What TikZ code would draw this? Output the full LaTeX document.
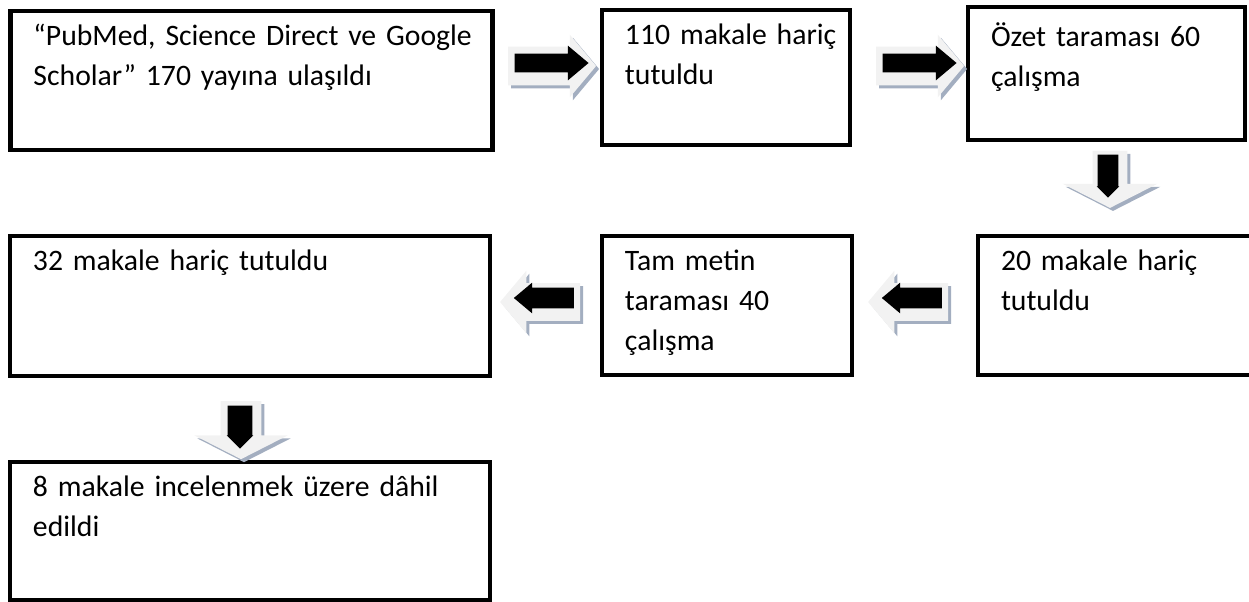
\documentclass[tikz,border=0pt]{standalone}
\usepackage{fontspec}
\setmainfont{Carlito}
\usepackage{tikz}
\usetikzlibrary{shapes.arrows,shadows}
\definecolor{ar-face}{HTML}{F2F2F2}
\definecolor{ar-shade}{HTML}{A3AEC0}

\begin{document}
\begin{tikzpicture}[
    x=0.02cm, y=-0.02cm, % one unit is one pixel of the page
    font=\fontsize{16.9}{22.76}\selectfont
  ]

  % Global style definitions
  \tikzset{
    box/.style={draw, line width=0.09cm, rectangle, anchor=north west, outer sep=0pt,
      inner xsep=0.46cm, inner ysep=0pt, align=left, text height=0.7cm,
      execute at begin node={\hyphenpenalty=10000\relax}},
    outarrow/.style={single arrow, fill=ar-face, inner xsep=0pt, single arrow tip angle=100,
      drop shadow={shadow xshift=0.06cm, shadow yshift=-0.06cm, fill=ar-shade, opacity=1}},
    inarrow/.style={single arrow, fill=black, inner xsep=0pt, single arrow tip angle=80}
  }

  \useasboundingbox (0,0) rectangle (1249,602);
  \clip (0,0) rectangle (1249,602);

  % Boxes, row by row
  \node[box, text width=8.72cm, text depth=2.08cm] (found) at (10.5,11)
    {\mbox{“PubMed, Science Direct ve Google}\\Scholar” 170 yayına ulaşıldı};
  \node[box, text width=4.04cm, text depth=2.0cm] (excl1) at (602,10)
    {\mbox{110 makale hariç}\\tutuldu};
  \node[box, text width=4.62cm, text height=0.8cm, text depth=1.86cm] (abstr) at (968,7)
    {\mbox{Özet taraması 60}\\çalışma};
  \node[box, text width=4.88cm, text depth=2.08cm] (excl2) at (978,236)
    {\mbox{20 makale hariç}\\tutuldu};
  \node[box, text width=4.08cm, text depth=2.08cm] (full) at (602,236)
    {Tam metin\\taraması 40\\çalışma};
  \node[box, text width=8.68cm, text depth=2.1cm] (excl3) at (10,236)
    {32 makale hariç tutuldu};
  \node[box, text width=8.68cm, text depth=2.06cm] (incl) at (10,462)
    {\mbox{8 makale incelenmek üzere dâhil}\\edildi};

  % Block arrows: light face with shade, black core on top
  \node[outarrow, minimum height=1.76cm, inner ysep=0.38cm, single arrow head extend=0.24cm] (r1) at (544,66) {};
  \node[inarrow, minimum height=1.48cm, inner ysep=0.18cm, single arrow head extend=0.16cm] (r1c) at (546,63) {};
  \node[outarrow, minimum height=1.76cm, inner ysep=0.38cm, single arrow head extend=0.24cm] (r2) at (912,66) {};
  \node[inarrow, minimum height=1.48cm, inner ysep=0.18cm, single arrow head extend=0.16cm] (r2c) at (914,63) {};

  \node[outarrow, rotate=-90, single arrow tip angle=126, minimum height=1.14cm, inner ysep=0.34cm, single arrow head extend=0.6cm] (d1) at (1110,175) {};
  \node[inarrow, rotate=-90, single arrow tip angle=90, minimum height=0.86cm, inner ysep=0.2cm, single arrow head extend=0.02cm] (d1c) at (1108,171) {};

  \node[outarrow, rotate=180, minimum height=1.6cm, inner ysep=0.37cm, single arrow head extend=0.25cm] (l1) at (916,302) {};
  \node[inarrow, rotate=180, minimum height=1.2cm, inner ysep=0.2cm, single arrow head extend=0.1cm] (l1c) at (918,298) {};
  \node[outarrow, rotate=180, minimum height=1.6cm, inner ysep=0.37cm, single arrow head extend=0.25cm] (l2) at (548,302) {};
  \node[inarrow, rotate=180, minimum height=1.2cm, inner ysep=0.2cm, single arrow head extend=0.1cm] (l2c) at (550,298) {};

  \node[outarrow, rotate=-90, single arrow tip angle=126, minimum height=1.16cm, inner ysep=0.4cm, single arrow head extend=0.53cm] (d2) at (241,425) {};
  \node[inarrow, rotate=-90, single arrow tip angle=90, minimum height=0.86cm, inner ysep=0.24cm, single arrow head extend=0.02cm] (d2c) at (240,421) {};

\end{tikzpicture}
\end{document}
